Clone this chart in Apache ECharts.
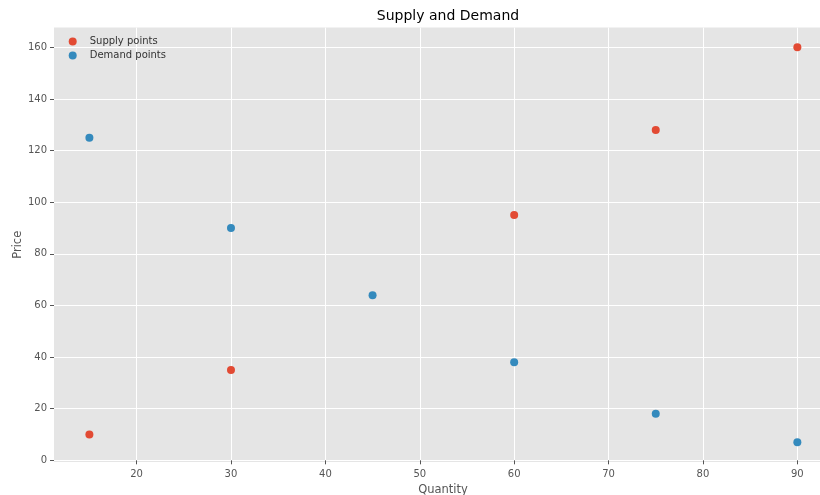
<!DOCTYPE html>
<html><head><meta charset="utf-8">
<script src="https://cdn.jsdelivr.net/npm/echarts@6/dist/echarts.min.js"></script>
<style>html,body{margin:0;padding:0;background:#fff}#c{width:820px;height:495px}</style>
</head><body><div id="c"></div>
<script>
const supplyQty = [15, 30, 60, 75, 90];
const supplyPrice = [10, 35, 95, 128, 160];
const demandQty = [15, 30, 45, 60, 75, 90];
const demandPrice = [125, 90, 64, 38, 18, 7];
const xTicks = [20, 30, 40, 50, 60, 70, 80, 90];
const yTicks = [0, 20, 40, 60, 80, 100, 120, 140, 160];

const font = 'DejaVu Sans';
const chart = echarts.init(document.getElementById('c'), null, {renderer: 'canvas'});
const axisCommon = {
  axisLine: {show: false},
  axisTick: {show: true, length: 4, lineStyle: {color: '#555', width: 1}},
  axisLabel: {color: '#555', fontFamily: font, fontSize: 10, margin: 7},
  splitLine: {show: true, lineStyle: {color: '#fff', width: 1}},
  nameTextStyle: {color: '#555', fontFamily: font, fontSize: 11.5}
};
chart.setOption({
  backgroundColor: '#fff',
  animation: false,
  title: {text: 'Supply and Demand', left: 443, top: 4, textAlign: 'center',
    textStyle: {fontFamily: font, fontSize: 14, fontWeight: 'normal', color: '#000'}},
  legend: {orient: 'vertical', left: 68.7, top: 36.4, padding: 0, itemWidth: 8, itemHeight: 8, itemGap: 4,
    icon: 'circle',
    textStyle: {fontFamily: font, fontSize: 10, color: '#333', padding: [0, 0, 0, 8]},
    data: ['Supply points', 'Demand points']},
  grid: {left: 54, right: 0, top: 27.6, bottom: 33, backgroundColor: '#E5E5E5', show: true, borderWidth: 0,
    outerBoundsMode: 'none', containLabel: false},
  xAxis: Object.assign({}, axisCommon, {
    type: 'value', min: 11.25, max: 92.4,
    name: 'Quantity', nameLocation: 'middle', nameGap: 22, nameMoveOverlap: false,
    axisTick: Object.assign({}, axisCommon.axisTick, {customValues: xTicks}),
    axisLabel: Object.assign({}, axisCommon.axisLabel, {customValues: xTicks}),
    nameTextStyle: Object.assign({}, axisCommon.nameTextStyle, {padding: [0, 0, 0, 12]})
  }),
  yAxis: Object.assign({}, axisCommon, {
    type: 'value', min: -0.65, max: 167.65,
    name: 'Price', nameLocation: 'middle', nameGap: 30, nameMoveOverlap: false,
    axisTick: Object.assign({}, axisCommon.axisTick, {customValues: yTicks}),
    axisLabel: Object.assign({}, axisCommon.axisLabel, {customValues: yTicks})
  }),
  series: [
    {name: 'Supply points', type: 'scatter', symbolSize: 8, itemStyle: {color: '#E24A33', opacity: 1},
      data: supplyQty.map((q, i) => [q, supplyPrice[i]])},
    {name: 'Demand points', type: 'scatter', symbolSize: 8, itemStyle: {color: '#348ABD', opacity: 1},
      data: demandQty.map((q, i) => [q, demandPrice[i]])}
  ]
});
</script></body></html>
